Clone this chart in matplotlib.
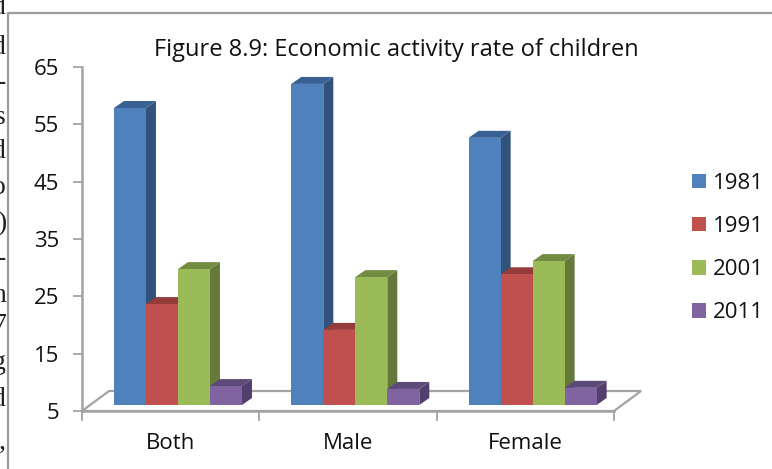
import matplotlib
matplotlib.use("Agg")
import matplotlib.pyplot as plt
from matplotlib.patches import Polygon, Rectangle
from matplotlib.lines import Line2D

W, H = 772, 469

categories = ["Both", "Male", "Female"]
years = ["1981", "1991", "2001", "2011"]
v1981 = [56.8, 61.0, 51.6]
v1991 = [22.6, 18.1, 27.8]
v2001 = [28.7, 27.3, 30.1]
v2011 = [8.3, 7.8, 8.0]
yticks = [5, 15, 25, 35, 45, 55, 65]

front = ["#4F81BD", "#C0504D", "#9BBB59", "#8064A2"]
side = ["#31527A", "#7D3331", "#64793A", "#533F6D"]
top = ["#3A6194", "#943C3A", "#728C42", "#5E4A7A"]
GREY = "#A3A3A3"

# bouts de texte de la page, coupés par le bord gauche de la capture
page_bits = [("d", 8), ("d", 47), ("-", 82), ("s", 118), ("d", 152), ("o", 188), (")", 224),
             ("-", 258), ("n", 295), ("7", 326), ("g", 362), ("d", 400), (",", 442)]

plt.rcParams["font.family"] = ["Open Sans", "DejaVu Sans"]

fig = plt.figure(figsize=(W / 100, H / 100), dpi=100)
ax = fig.add_axes([82 / W, 1 - 411 / H, (614 - 82) / W, (411 - 67) / H])
ax.set_xlim(0, 3)
ax.set_ylim(5, 65)
ax.patch.set_alpha(0)

px_x = 3 / (614 - 82)
px_y = 60 / (411 - 67)
dx, dy = 10 * px_x, 7 * px_y     # profondeur des barres
base = 5 + 6 * px_y              # les barres sont posées un peu derrière l'axe
bar_w = 32 * px_x
shift = 7.3 * px_x

# plancher
fx, fy = 27 * px_x, 20 * px_y
ax.add_patch(Polygon([(0, 5), (fx, 5 + fy), (3 + fx, 5 + fy), (3, 5)], closed=True, facecolor="white",
                     edgecolor=GREY, linewidth=1.6, clip_on=False, zorder=1))

for s, values in enumerate([v1981, v1991, v2001, v2011]):
    for c, v in enumerate(values):
        x0 = c + 0.5 + shift + (s - 2) * bar_w
        x1 = x0 + bar_w
        h = v + base - 5
        ax.add_patch(Polygon([(x1, base), (x1 + dx, base + dy), (x1 + dx, h + dy), (x1, h)], closed=True,
                             facecolor=side[s], edgecolor="none", clip_on=False, zorder=3 + c * 10 + s))
        ax.add_patch(Polygon([(x0, h), (x0 + dx, h + dy), (x1 + dx, h + dy), (x1, h)], closed=True,
                             facecolor=top[s], edgecolor="none", clip_on=False, zorder=3 + c * 10 + s))
        ax.bar(x0, h - base, bar_w, bottom=base, align="edge", color=front[s], edgecolor="none",
               zorder=3.5 + c * 10 + s)

for name in ["top", "right"]:
    ax.spines[name].set_visible(False)
for name in ["left", "bottom"]:
    ax.spines[name].set_color(GREY)
    ax.spines[name].set_linewidth(1.8)
    ax.spines[name].set_zorder(2)

ax.set_yticks(yticks)
ax.set_xticks([0, 1, 2, 3])
ax.set_xticklabels([])
ax.set_xticks([0.5, 1.5, 2.5], categories, minor=True)
ax.tick_params(axis="y", length=6.5, width=1.3, color=GREY, labelsize=16, pad=10, labelcolor="#111111")
ax.tick_params(axis="x", which="major", length=7, width=1.3, color=GREY)
ax.tick_params(axis="x", which="minor", length=0, labelsize=16, pad=16, labelcolor="#111111")

fig.text(396 / W, 1 - 50 / H, "Figure 8.9: Economic activity rate of children", fontsize=17,
         ha="center", va="center", color="#111111")

handles = [Rectangle((0, 0), 1, 1, facecolor=c, edgecolor="none") for c in front]
fig.legend(handles, years, loc="center left", bbox_to_anchor=(672 / W, 1 - 248 / H), frameon=False,
           fontsize=16, handlelength=0.63, handleheight=0.63, handletextpad=0.32, labelspacing=1.0,
           labelcolor="#111111")

# cadre du graphique
fig.add_artist(Line2D([1, 8 / W, 8 / W], [1 - 13 / H, 1 - 13 / H, 0], color="#9C9C9C", linewidth=1.6))

for ch, y in page_bits:
    fig.text(6 / W, 1 - y / H, ch, family="Liberation Serif", fontsize=20, ha="right", va="center", color="#222222")

fig.savefig("out.png", dpi=100)
